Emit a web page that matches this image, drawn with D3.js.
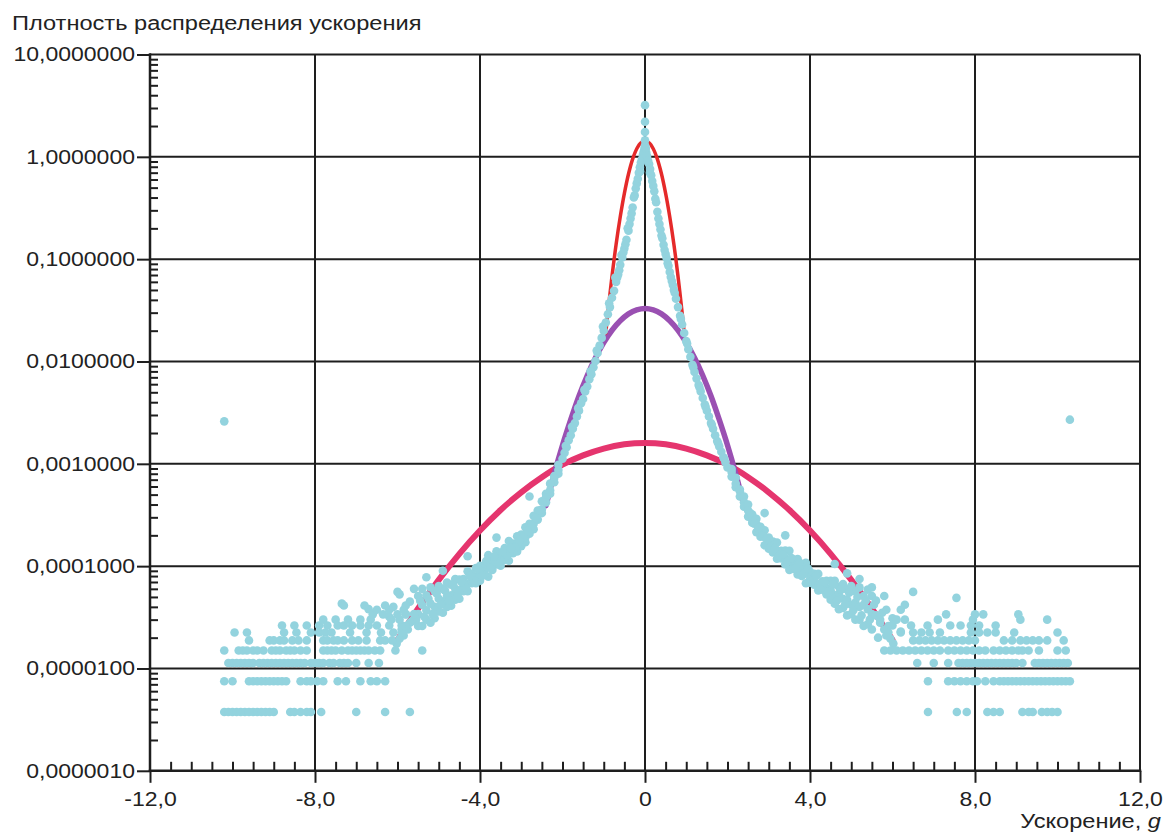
<!DOCTYPE html>
<html>
<head>
<meta charset="utf-8">
<script src="https://cdn.jsdelivr.net/npm/d3@7"></script>
<style>
  body { margin: 0; background: #fff; }
  text { font-family: "Liberation Sans", Arial, sans-serif; fill: #222; }
</style>
</head>
<body>
<svg id="chart" width="1166" height="838"></svg>
<script>
// ---- Axis ticks and labels ----
const xMajor = [-12, -8, -4, 0, 4, 8, 12];
const yMajor = [1e-6, 1e-5, 1e-4, 1e-3, 1e-2, 1e-1, 1, 10];
const yLabels = ["0,0000010", "0,0000100", "0,0001000", "0,0010000",
                 "0,0100000", "0,1000000", "1,0000000", "10,0000000"];

// ---- Model curves (acceleration, density) ----
const narrowCurve = [[-0.95,0.019],[-0.9,0.030],[-0.8,0.068],[-0.7,0.14],[-0.6,0.26],[-0.5,0.44],
  [-0.4,0.68],[-0.3,0.95],[-0.2,1.2],[-0.1,1.37],[0,1.42],[0.1,1.37],[0.2,1.2],[0.3,0.95],
  [0.4,0.68],[0.5,0.44],[0.6,0.26],[0.7,0.14],[0.8,0.068],[0.9,0.030],[0.95,0.019]];
const middleCurve = [[-2.4,0.00039],[-2.2,0.00080],[-2.0,0.00152],[-1.8,0.0027],[-1.6,0.0046],
  [-1.4,0.0073],[-1.2,0.0109],[-1.0,0.0153],[-0.8,0.0202],[-0.6,0.025],[-0.4,0.0292],[-0.2,0.032],
  [0,0.033],[0.2,0.032],[0.4,0.0292],[0.6,0.025],[0.8,0.0202],[1.0,0.0153],[1.2,0.0109],
  [1.4,0.0073],[1.6,0.0046],[1.8,0.0027],[2.0,0.00152],[2.2,0.00080],[2.4,0.00039]];
const wideCurve = [[-6,1.9e-5],[-5.5,3.85e-5],[-5,7.35e-5],[-4.5,1.32e-4],[-4,2.23e-4],[-3.5,3.54e-4],
  [-3,5.27e-4],[-2.5,7.4e-4],[-2,9.8e-4],[-1.5,1.21e-3],[-1,1.41e-3],[-0.5,1.55e-3],[0,1.6e-3],
  [0.5,1.55e-3],[1,1.41e-3],[1.5,1.21e-3],[2,9.8e-4],[2.5,7.4e-4],[3,5.27e-4],[3.5,3.54e-4],
  [4,2.23e-4],[4.5,1.32e-4],[5,7.35e-5],[5.5,3.85e-5],[6,1.9e-5]];

// ---- Measured density: central peak and steep flanks ----
const peakPoints = [[0,3.2],[0,2.2],[0,1.75],[0,1.45],[0,1.3],[0.01,1.25],[-0.01,1.22],[0.03,1.1],[-0.03,1.12]];
const leftFlank = [[-0.02,1.15],[-0.05,1.05],[-0.1,0.88],[-0.15,0.70],[-0.2,0.55],[-0.25,0.42],
  [-0.3,0.32],[-0.35,0.25],[-0.4,0.19],[-0.45,0.155],[-0.5,0.127],[-0.55,0.104],[-0.6,0.088],
  [-0.65,0.071],[-0.7,0.060],[-0.75,0.049],[-0.8,0.042],[-0.85,0.034],[-0.9,0.029],[-0.95,0.024],
  [-1.0,0.020],[-1.05,0.017],[-1.1,0.0143],[-1.15,0.0121],[-1.2,0.0101],[-1.25,0.0088],[-1.3,0.0075],
  [-1.35,0.0067],[-1.4,0.0057],[-1.45,0.0051],[-1.5,0.0043],[-1.55,0.0039],[-1.6,0.0033],
  [-1.65,0.0029],[-1.7,0.0025],[-1.75,0.0022],[-1.8,0.0019],[-1.85,0.0017],[-1.9,0.00145],
  [-1.95,0.00128],[-2.0,0.00112],
  [-0.12,0.72],[-0.27,0.40],[-0.42,0.20],[-0.57,0.11],[-0.72,0.066],[-0.87,0.037],[-1.02,0.022],
  [-1.17,0.0128],[-1.32,0.0080],[-1.47,0.0053],[-1.62,0.0035],[-1.77,0.0023],[-1.92,0.0015],
  [-0.075,0.95],[-0.125,0.79],[-0.175,0.61],[-0.225,0.49],[-0.325,0.28],[-0.375,0.22],
  [-0.475,0.14],[-0.525,0.116],[-0.625,0.078],[-0.675,0.066]];
const rightFlank = [[0.02,1.2],[0.05,1.02],[0.1,0.85],[0.15,0.66],[0.2,0.52],[0.25,0.39],[0.3,0.29],
  [0.35,0.22],[0.4,0.17],[0.45,0.138],[0.5,0.112],[0.55,0.091],[0.6,0.075],[0.65,0.061],[0.7,0.050],
  [0.75,0.041],[0.8,0.034],[0.85,0.028],[0.9,0.023],[0.95,0.019],[1.0,0.0158],[1.05,0.0132],
  [1.1,0.0111],[1.15,0.0093],[1.2,0.0079],[1.25,0.0068],[1.3,0.0059],[1.35,0.0051],[1.4,0.0044],
  [1.45,0.0038],[1.5,0.0033],[1.55,0.0029],[1.6,0.0025],[1.65,0.0022],[1.7,0.0019],[1.75,0.00167],
  [1.8,0.00148],[1.85,0.00131],[1.9,0.00116],[1.95,0.00103],[2.0,0.00092],
  [0.12,0.70],[0.27,0.36],[0.42,0.16],[0.57,0.086],[0.72,0.047],[0.87,0.026],[1.02,0.0150],
  [1.17,0.0088],[1.32,0.0056],[1.47,0.0036],[1.62,0.0024],[1.77,0.00160],[1.92,0.00112],
  [0.075,0.92],[0.125,0.76],[0.175,0.58],[0.225,0.46],[0.325,0.25],[0.375,0.195],
  [0.475,0.123],[0.525,0.102],[0.625,0.067],[0.675,0.056]];

// ---- Measured density: shoulders, [x, upper, middle, lower] ----
const leftBand = [
  [-2.1,9.8e-4,8.7e-4,8.0e-4],[-2.2,7.6e-4,7.3e-4,6.6e-4],[-2.3,6.4e-4,5.5e-4,5.1e-4],
  [-2.4,5.1e-4,4.7e-4,4.2e-4],[-2.5,4.3e-4,3.6e-4,3.3e-4],[-2.6,3.5e-4,3.25e-4,2.85e-4],
  [-2.7,3.1e-4,2.6e-4,2.3e-4],[-2.8,2.6e-4,2.4e-4,2.07e-4],[-2.9,2.4e-4,1.92e-4,1.71e-4],
  [-3.0,2.04e-4,1.84e-4,1.57e-4],[-3.1,1.96e-4,1.63e-4,1.39e-4],[-3.2,1.66e-4,1.56e-4,1.34e-4],
  [-3.3,1.76e-4,1.34e-4,1.13e-4],[-3.4,1.5e-4,1.32e-4,1.15e-4],[-3.5,1.3e-4,1.14e-4,1.01e-4],
  [-3.6,1.4e-4,1.21e-4,1.04e-4],[-3.7,1.2e-4,1.04e-4,9.2e-5],[-3.8,1.28e-4,1.02e-4,7.9e-5],
  [-3.9,1.0e-4,8.7e-5,8.2e-5],[-4.0,1.01e-4,8.8e-5,7.2e-5],[-4.1,9.6e-5,7.9e-5,6.8e-5],
  [-4.2,8.4e-5,7.8e-5,6.8e-5],[-4.3,8.9e-5,6.7e-5,5.7e-5],[-4.4,7.5e-5,6.6e-5,5.7e-5],
  [-4.5,7.4e-5,5.8e-5,4.8e-5],[-4.6,7.5e-5,6.0e-5,4.7e-5],[-4.7,6.6e-5,5.2e-5,4.1e-5],
  [-4.8,6.9e-5,5.1e-5,4.0e-5],[-4.9,6.0e-5,4.5e-5,3.5e-5],[-5.0,6.4e-5,4.8e-5,3.6e-5],
  [-5.1,5.7e-5,4.0e-5,3.1e-5],[-5.2,6.2e-5,4.3e-5,2.8e-5],[-5.3,5.2e-5,3.7e-5,3.0e-5],
  [-5.4,6.0e-5,4.2e-5,2.6e-5],[-5.5,5.1e-5,3.4e-5,2.6e-5]];
const leftBandExtra = [[-2.55,3.5e-4],[-2.65,2.95e-4],[-2.75,2.5e-4],[-2.85,2.2e-4],[-2.95,1.9e-4],
  [-3.05,1.75e-4],[-3.15,1.52e-4],[-3.25,1.5e-4],[-3.35,1.28e-4],[-3.45,1.38e-4],[-3.55,1.1e-4],
  [-3.65,1.24e-4],[-3.75,9.6e-5],[-3.85,1.12e-4],[-3.95,8.0e-5],[-4.05,9.4e-5],[-4.15,7.2e-5],
  [-4.25,8.0e-5],[-4.35,6.2e-5],[-4.45,7.0e-5],[-4.55,5.2e-5],[-4.65,6.6e-5],[-4.75,4.6e-5],
  [-4.85,5.8e-5],[-4.95,4.2e-5],[-5.05,5.4e-5],[-5.15,3.4e-5],[-5.25,4.8e-5],[-5.35,3.2e-5],
  [-5.45,4.6e-5],[-5.55,3.0e-5]];
const rightBand = [
  [2.1,8.9e-4,8.3e-4,7.5e-4],[2.2,7.3e-4,6.4e-4,5.9e-4],[2.3,5.6e-4,5.4e-4,4.8e-4],
  [2.4,4.8e-4,4.2e-4,3.8e-4],[2.5,4.0e-4,3.5e-4,3.05e-4],[2.6,3.2e-4,2.85e-4,2.65e-4],
  [2.7,2.9e-4,2.58e-4,2.15e-4],[2.8,2.42e-4,2.13e-4,1.94e-4],[2.9,2.24e-4,1.92e-4,1.6e-4],
  [3.0,1.9e-4,1.62e-4,1.48e-4],[3.1,1.74e-4,1.58e-4,1.36e-4],[3.2,1.7e-4,1.36e-4,1.18e-4],
  [3.3,1.41e-4,1.37e-4,1.19e-4],[3.4,1.42e-4,1.2e-4,1.04e-4],[3.5,1.41e-4,1.14e-4,9.2e-5],
  [3.6,1.16e-4,1.01e-4,9.4e-5],[3.7,1.17e-4,1.02e-4,8.3e-5],[3.8,1.04e-4,8.9e-5,8.0e-5],
  [3.9,1.08e-4,8.7e-5,6.8e-5],[4.0,8.8e-5,7.5e-5,6.9e-5],[4.1,8.4e-5,7.7e-5,6.6e-5],
  [4.2,8.4e-5,6.7e-5,5.8e-5],[4.3,7.1e-5,6.9e-5,5.9e-5],[4.4,7.2e-5,6.1e-5,5.3e-5],
  [4.5,7.2e-5,5.8e-5,4.7e-5],[4.6,7.2e-5,5.2e-5,4.3e-5],[4.7,6.3e-5,5.4e-5,3.8e-5],
  [4.8,6.7e-5,4.8e-5,3.9e-5],[4.9,5.9e-5,4.7e-5,3.3e-5],[5.0,6.4e-5,4.2e-5,3.4e-5],
  [5.1,5.7e-5,4.4e-5,3.0e-5],[5.2,6.2e-5,4.0e-5,3.0e-5],[5.3,5.1e-5,4.2e-5,2.6e-5],
  [5.4,5.9e-5,3.8e-5,2.7e-5],[5.5,5.1e-5,3.4e-5,2.4e-5]];
const rightBandExtra = [[2.55,3.3e-4],[2.65,2.6e-4],[2.75,2.35e-4],[2.85,1.98e-4],[2.95,1.85e-4],
  [3.05,1.55e-4],[3.15,1.5e-4],[3.25,1.26e-4],[3.35,1.3e-4],[3.45,1.1e-4],[3.55,1.2e-4],
  [3.65,9.6e-5],[3.75,1.08e-4],[3.85,8.4e-5],[3.95,9.5e-5],[4.05,7.2e-5],[4.15,8.0e-5],
  [4.25,6.2e-5],[4.35,7.0e-5],[4.45,5.6e-5],[4.55,6.6e-5],[4.65,4.6e-5],[4.75,5.9e-5],
  [4.85,4.2e-5],[4.95,5.5e-5],[5.05,3.7e-5],[5.15,5.0e-5],[5.25,3.3e-5],[5.35,4.6e-5],
  [5.45,3.0e-5],[5.55,4.2e-5]];
const scatterPoints = [
  [-2.8,4.8e-4],[-3.6,1.9e-4],[-4.3,1.25e-4],[-4.9,9.0e-5],[-5.3,7.8e-5],[-5.6,6.0e-5],[-6.0,5.6e-5],
  [-5.7,4.5e-5],[-5.8,3.4e-5],[-5.65,2.9e-5],[-6.2,3.2e-5],[-5.9,2.4e-5],[-6.1,4.0e-5],[-7.35,4.3e-5],
  [-6.7,3.8e-5],[-5.95,5.3e-5],
  [-5.6,3.4e-5],[-5.7,2.8e-5],[-5.75,2.4e-5],[-5.85,2.1e-5],[-5.95,1.95e-5],[-6.02,1.75e-5],
  [-5.8,2.6e-5],[-5.9,2.25e-5],
  [2.9,3.3e-4],[3.4,2.0e-4],[4.6,1.05e-4],[4.9,8.5e-5],[5.2,7.5e-5],[5.5,6.2e-5],[5.8,5.1e-5],
  [5.6,4.6e-5],[5.75,3.5e-5],[6.0,3.1e-5],[5.9,2.6e-5],[6.3,4.2e-5],[6.5,5.6e-5],[7.55,4.9e-5],
  [6.2,2.3e-5],[5.65,2.0e-5],
  [5.6,3.3e-5],[5.7,2.8e-5],[5.8,2.4e-5],[5.85,2.1e-5],[5.95,1.95e-5],[6.02,1.75e-5],
  [-10.2,0.0026],[10.3,0.0027]];

// ---- Measured density: far tails, one row per count level ----
const tailLevels = [3.75e-6, 7.5e-6, 1.13e-5, 1.5e-5, 1.88e-5, 2.25e-5, 2.63e-5, 3.0e-5, 3.38e-5, 3.75e-5, 4.13e-5];
const leftTail = [
  [-10.2,-10.1,-10.0,-9.9,-9.8,-9.7,-9.6,-9.5,-9.4,-9.3,-9.2,-9.1,-9.0,-8.6,-8.5,-8.35,-8.2,-8.1,-7.85,-7.0,-6.3,-5.7],
  [-10.2,-10.0,-9.6,-9.5,-9.4,-9.3,-9.2,-9.1,-9.0,-8.9,-8.8,-8.7,-8.35,-8.2,-8.1,-7.95,-7.8,-7.45,-7.25,-6.9,-6.65,-6.5,-6.3],
  [-10.1,-10.0,-9.9,-9.8,-9.7,-9.6,-9.5,-9.35,-9.25,-9.15,-9.05,-8.95,-8.85,-8.75,-8.65,-8.55,-8.45,-8.35,-8.25,-8.1,-8.0,-7.9,-7.8,-7.65,-7.55,-7.4,-7.3,-7.2,-7.0,-6.7,-6.45],
  [-10.2,-9.85,-9.75,-9.65,-9.5,-9.4,-9.25,-9.05,-8.95,-8.85,-8.7,-8.6,-8.5,-8.35,-8.2,-7.8,-7.7,-7.6,-7.5,-7.35,-7.2,-7.1,-7.0,-6.9,-6.8,-6.7,-6.55,-6.42,-6.05,-5.4],
  [-9.6,-9.1,-9.0,-8.85,-8.75,-8.55,-8.4,-8.2,-7.8,-7.7,-7.55,-7.45,-7.3,-7.1,-6.95,-6.75,-6.42,-6.3,-6.13],
  [-9.95,-9.65,-8.75,-8.45,-8.1,-7.9,-7.75,-7.6,-7.15,-6.75,-6.4,-6.1],
  [-8.8,-8.5,-8.2,-7.9,-7.7,-7.45,-7.3,-7.1,-6.9,-6.7,-6.5,-6.2,-5.9],
  [-7.8,-7.5,-7.2,-6.9,-6.65,-6.15,-5.95],
  [-6.6,-6.35,-6.0,-5.8],
  [-6.5,-6.2,-5.85],
  [-7.3,-6.8,-6.3,-5.8]];
const rightTail = [
  [6.86,7.56,7.8,8.3,8.45,8.6,9.15,9.3,9.4,9.62,9.75,9.87,10.0],
  [6.86,7.35,7.5,7.65,7.8,7.95,8.05,8.25,8.45,8.6,8.7,8.8,8.9,9.0,9.1,9.2,9.3,9.4,9.5,9.6,9.7,9.8,9.9,10.0,10.1,10.2,10.3],
  [6.6,7.0,7.35,7.6,7.7,7.8,7.9,8.0,8.1,8.2,8.3,8.4,8.5,8.6,8.7,8.8,8.9,9.0,9.15,9.45,9.55,9.65,9.75,9.85,9.95,10.05,10.15,10.25],
  [5.8,5.95,6.1,6.25,6.4,6.55,6.7,6.85,7.0,7.15,7.35,7.5,7.65,7.8,7.95,8.1,8.25,8.45,8.6,8.75,8.9,9.05,9.15,9.3,9.55,10.0,10.2],
  [6.5,6.65,6.8,6.95,7.1,7.25,7.4,7.55,7.7,7.85,8.0,8.7,8.9,9.1,9.25,9.4,9.55,9.75,10.15],
  [5.9,6.2,6.5,6.7,6.9,7.15,7.9,8.1,8.3,8.5,8.95,10.0],
  [6.0,6.45,6.85,7.4,7.65,7.9,8.1,8.5],
  [5.7,6.1,6.3,7.1,7.95,9.1,9.75],
  [7.3,8.0,8.2,9.05],
  [5.85,6.2],
  []];

// ---- Layout ----
const svg = d3.select("#chart");
const x = d3.scaleLinear().domain([-12, 12]).range([150, 1140]);
const y = d3.scaleLog().domain([1e-6, 10]).range([770.8, 54.5]);
const ink = "#1e1e1e";
const fontSize = 19.5;
const stretchK = 1.18;

function stretch(sel) {
  sel.each(function () {
    const w = this.getComputedTextLength();
    d3.select(this).attr("textLength", w * stretchK).attr("lengthAdjust", "spacingAndGlyphs");
  });
}

// grid
const grid = svg.append("g").attr("stroke", ink).attr("stroke-width", 2);
grid.selectAll("line.v").data(xMajor.slice(1)).join("line")
  .attr("x1", d => x(d)).attr("x2", d => x(d))
  .attr("y1", y(10)).attr("y2", y(1e-6));
grid.selectAll("line.h").data(yMajor.slice(1)).join("line")
  .attr("x1", x(-12)).attr("x2", x(12))
  .attr("y1", d => y(d)).attr("y2", d => y(d));

// model curves
const line = d3.line().x(d => x(d[0])).y(d => y(d[1])).curve(d3.curveCatmullRom.alpha(0.5));
svg.append("path").datum(wideCurve).attr("d", line)
  .attr("fill", "none").attr("stroke", "#e5356e").attr("stroke-width", 6).attr("stroke-linecap", "round");
svg.append("path").datum(middleCurve).attr("d", line)
  .attr("fill", "none").attr("stroke", "#9a50b2").attr("stroke-width", 5.5).attr("stroke-linecap", "round");
svg.append("path").datum(narrowCurve).attr("d", line)
  .attr("fill", "none").attr("stroke", "#e52a2a").attr("stroke-width", 3.5).attr("stroke-linecap", "round");

// measured points
const bandRows = rows => rows.flatMap(r => [[r[0], r[1]], [r[0], r[2]], [r[0], r[3]]]);
const measured = [].concat(
  peakPoints, leftFlank, rightFlank,
  bandRows(leftBand), bandRows(rightBand), leftBandExtra, rightBandExtra,
  scatterPoints,
  leftTail.flatMap((row, i) => row.map(v => [v, tailLevels[i]])),
  rightTail.flatMap((row, i) => row.map(v => [v, tailLevels[i]]))
);
svg.append("g").selectAll("circle").data(measured).join("circle")
  .attr("cx", d => x(d[0])).attr("cy", d => y(d[1])).attr("r", 4.3)
  .attr("fill", "#93d3de");

// axes
const yAxis = d3.axisLeft(y).tickValues(yMajor).tickSize(13).tickSizeOuter(0).tickPadding(2)
  .tickFormat((d, i) => yLabels[i]);
const gy = svg.append("g").attr("transform", `translate(${x(-12)},0)`).call(yAxis);
gy.select(".domain").remove();
gy.attr("font-size", null).attr("font-family", null);
gy.selectAll("line").attr("stroke", ink).attr("stroke-width", 2);
gy.selectAll("text").style("font-size", fontSize + "px").attr("fill", ink).call(stretch);

const yMinor = y.ticks().filter(v => !yMajor.some(m => Math.abs(m - v) / m < 1e-9));
const gym = svg.append("g").attr("transform", `translate(${x(-12)},0)`)
  .call(d3.axisLeft(y).tickValues(yMinor).tickSize(-8).tickSizeOuter(0).tickFormat(""));
gym.select(".domain").remove();
gym.selectAll("line").attr("stroke", ink).attr("stroke-width", 2);

const xAxis = d3.axisBottom(x).tickValues(xMajor).tickSize(12).tickSizeOuter(0).tickPadding(9)
  .tickFormat(d => d === 0 ? "0" : d.toFixed(1).replace(".", ","));
const gx = svg.append("g").attr("transform", `translate(0,${y(1e-6)})`).call(xAxis);
gx.select(".domain").remove();
gx.attr("font-size", null).attr("font-family", null);
gx.selectAll("line").attr("stroke", ink).attr("stroke-width", 2);
gx.selectAll("text").style("font-size", fontSize + "px").attr("fill", ink).call(stretch);

const xMinor = d3.range(-23, 24).map(k => k / 2).filter(v => v % 4 !== 0);
const gxm = svg.append("g").attr("transform", `translate(0,${y(1e-6)})`)
  .call(d3.axisBottom(x).tickValues(xMinor).tickSize(-9).tickSizeOuter(0).tickFormat(""));
gxm.select(".domain").remove();
gxm.selectAll("line").attr("stroke", ink).attr("stroke-width", 2);

// frame
const frame = svg.append("g").attr("stroke", ink).attr("stroke-width", 2.5).attr("stroke-linecap", "square");
frame.append("line").attr("x1", x(-12)).attr("x2", x(-12)).attr("y1", y(10)).attr("y2", y(1e-6));
frame.append("line").attr("x1", x(-12)).attr("x2", x(12)).attr("y1", y(1e-6)).attr("y2", y(1e-6));

// titles
svg.append("text").attr("x", 12).attr("y", 30).style("font-size", "20px")
  .text("Плотность распределения ускорения").call(stretch);
const xt = svg.append("text").attr("x", 1161).attr("y", 828).attr("text-anchor", "end").style("font-size", "20px");
xt.append("tspan").text("Ускорение, ");
xt.append("tspan").attr("font-style", "italic").text("g");
xt.call(stretch);
</script>
</body>
</html>
